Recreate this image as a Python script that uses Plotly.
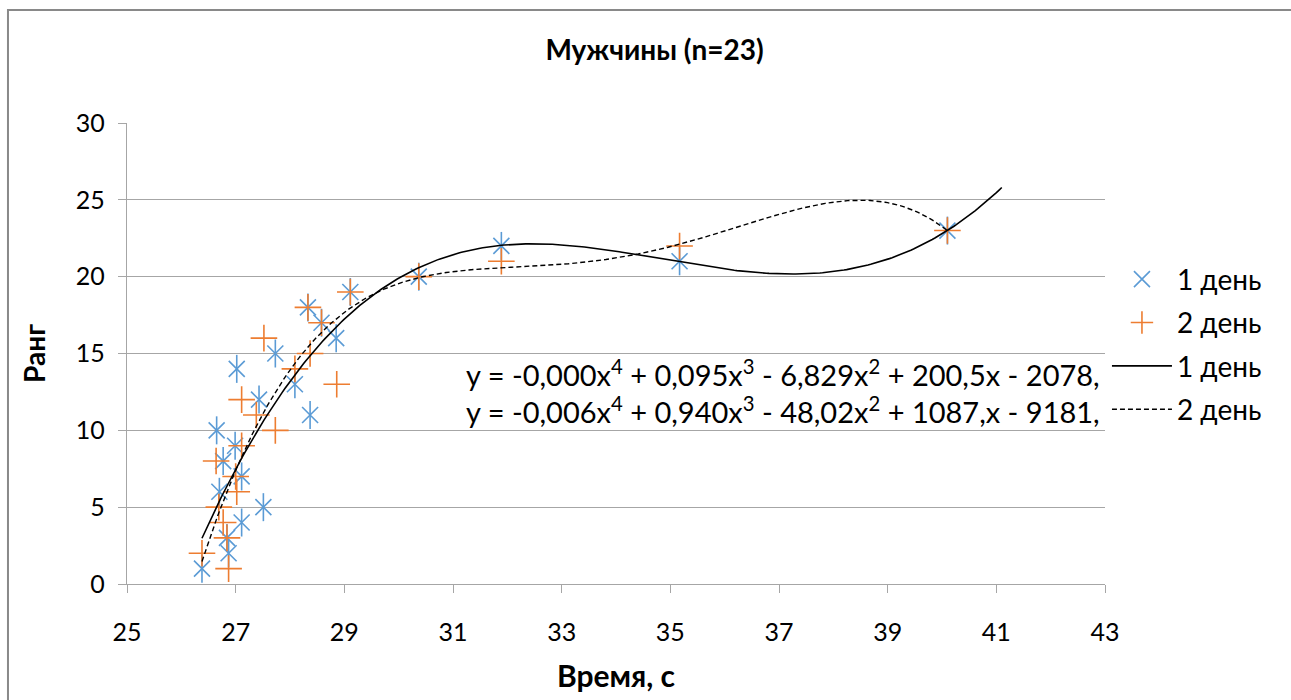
import numpy as np
import plotly.graph_objects as go

# Ranks of the 23 men and their times (s) on each day
rank = list(range(1, 24))
time_day1 = [26.38, 26.87, 26.84, 27.11, 27.51, 26.70, 27.11, 26.77, 26.99, 26.65,
             28.37, 27.43, 28.09, 27.02, 27.73, 28.85, 28.58, 28.33, 29.11, 30.37,
             35.17, 31.89, 40.10]
time_day2 = [26.87, 26.38, 26.84, 26.77, 26.69, 27.02, 27.00, 26.64, 27.11, 27.73,
             27.38, 27.11, 28.86, 28.09, 28.37, 27.52, 28.58, 28.33, 29.11, 30.37,
             31.89, 35.17, 40.10]

series_names = ["1 день", "2 день"]
equations = [
    "y = -0,000x<sup>4</sup> + 0,095x<sup>3</sup> - 6,829x<sup>2</sup> + 200,5x - 2078,",
    "y = -0,006x<sup>4</sup> + 0,940x<sup>3</sup> - 48,02x<sup>2</sup> + 1087,x - 9181,",
]
x_ticks = list(range(25, 44, 2))
y_ticks = list(range(0, 31, 5))

FONT = "Lato"
BLUE = "#5B9BD5"
ORANGE = "#ED7D31"
GRID = "#A6A6A6"


def poly_trend(x, y, x_end, degree=4, n=300):
    """Least-squares polynomial trend line over [min(x), x_end]."""
    coef = np.polyfit(x, y, degree)
    xs = np.linspace(min(x), x_end, n)
    return xs, np.polyval(coef, xs)


fig = go.Figure()

# Day 1: asterisk marker (diagonal cross + vertical stroke)
fig.add_trace(go.Scatter(
    x=time_day1, y=rank, mode="markers", name=series_names[0],
    legendgroup="g1",
    marker=dict(symbol="x-thin-open", size=16, color=BLUE, line=dict(color=BLUE, width=1.6)),
))
fig.add_trace(go.Scatter(
    x=time_day1, y=rank, mode="markers", name=series_names[0],
    legendgroup="g1", showlegend=False, hoverinfo="skip",
    marker=dict(symbol="line-ns-open", size=20, color=BLUE, line=dict(color=BLUE, width=1.6)),
))
# Day 2: plus marker
fig.add_trace(go.Scatter(
    x=time_day2, y=rank, mode="markers", name=series_names[1],
    legendgroup="g2",
    marker=dict(symbol="cross-thin-open", size=19, color=ORANGE, line=dict(color=ORANGE, width=1.6)),
))

# Fourth-degree trend lines
x1, y1 = poly_trend(time_day1, rank, max(time_day1) + 1.0)
x2, y2 = poly_trend(time_day2, rank, max(time_day2))
fig.add_trace(go.Scatter(
    x=x1, y=y1, mode="lines", name=series_names[0], legendgroup="g3",
    line=dict(color="black", width=1.6),
))
fig.add_trace(go.Scatter(
    x=x2, y=y2, mode="lines", name=series_names[1], legendgroup="g4",
    line=dict(color="black", width=1.4, dash="5px,3px"),
))

annotations = [
    dict(text=equations[0], x=0.997, y=0.458, xref="paper", yref="paper",
         xanchor="right", yanchor="middle", showarrow=False,
         font=dict(family=FONT, size=29, color="black")),
    dict(text=equations[1], x=0.997, y=0.378, xref="paper", yref="paper",
         xanchor="right", yanchor="middle", showarrow=False,
         font=dict(family=FONT, size=29, color="black")),
]

fig.update_layout(
    width=1291, height=700,
    margin=dict(l=127, r=186, t=123, b=116),
    paper_bgcolor="white", plot_bgcolor="white",
    font=dict(family=FONT, size=25, color="black"),
    title=dict(text="<b>Мужчины (n=23)</b>", x=0.507, xanchor="center",
               y=0.929, yanchor="middle", font=dict(family=FONT, size=28)),
    showlegend=True,
    legend=dict(x=1.002, xanchor="left", y=0.715, yanchor="top",
                font=dict(family=FONT, size=28), traceorder="grouped",
                tracegroupgap=4, itemwidth=60, bgcolor="rgba(0,0,0,0)"),
    annotations=annotations,
    shapes=[dict(type="rect", xref="paper", yref="paper",
                 x0=-0.1217, x1=1.2, y0=-0.4, y1=1.245,
                 line=dict(color="#898989", width=2), fillcolor="rgba(0,0,0,0)",
                 layer="below")],
)

fig.update_xaxes(
    range=[25, 43], tickvals=x_ticks, showgrid=False, zeroline=False,
    showline=True, linecolor=GRID, linewidth=1.3,
    ticks="outside", ticklen=8, tickcolor=GRID, ticklabelstandoff=18,
    tickfont=dict(family=FONT, size=25),
    title=dict(text="<b>Время, с</b>", font=dict(family=FONT, size=30), standoff=20),
)
fig.update_yaxes(
    range=[0, 30], tickvals=y_ticks, showgrid=True, gridcolor=GRID, gridwidth=1.3,
    zeroline=False, showline=True, linecolor=GRID, linewidth=1.3,
    ticks="outside", ticklen=8, tickcolor=GRID, ticklabelstandoff=8,
    tickfont=dict(family=FONT, size=25),
    title=dict(text="<b>Ранг</b>", font=dict(family=FONT, size=28), standoff=22),
)

fig.write_html("out.html")
